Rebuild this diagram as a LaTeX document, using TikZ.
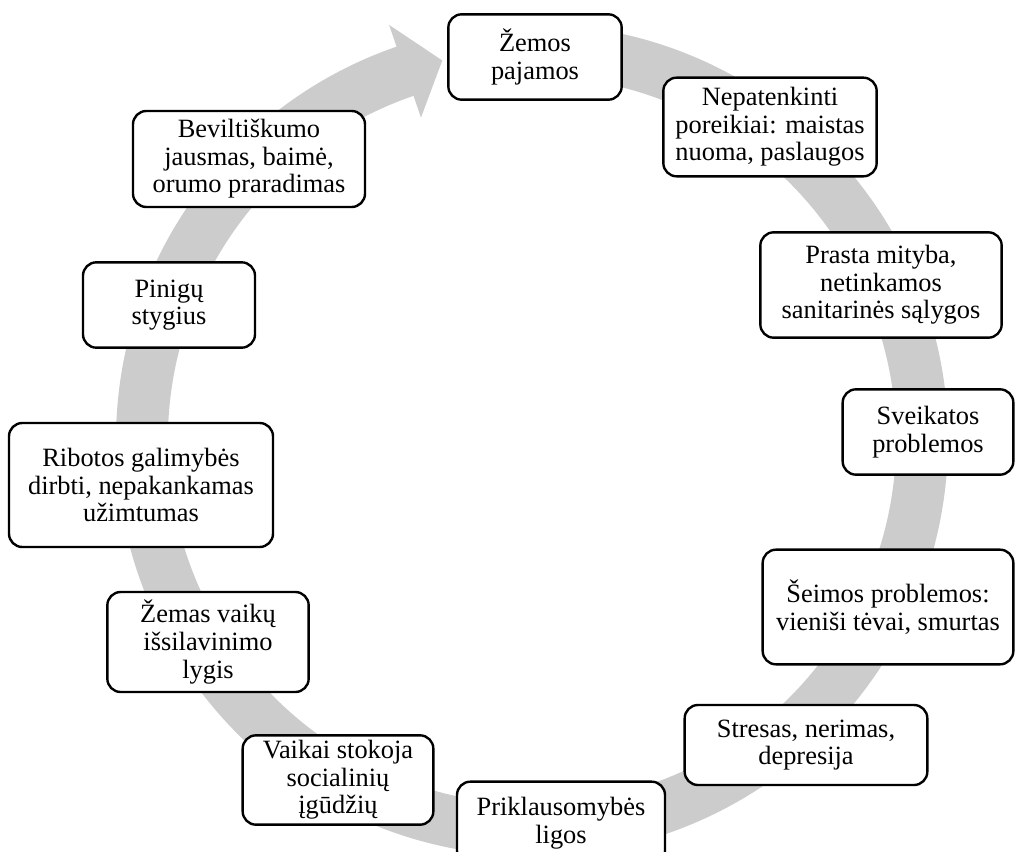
\documentclass[tikz,border=0pt]{standalone}
\usepackage{fontspec}
\setmainfont{Liberation Serif}

\begin{document}
\begin{tikzpicture}[
  x=0.75pt, y=0.75pt,
  stage/.style={rectangle, draw, line width=1.8pt, rounded corners=10pt,
                fill=white, align=center, inner sep=2pt,
                font=\fontsize{19.8}{20.7}\selectfont},
  band/.style={fill=gray!40}
]
\useasboundingbox (0,0) rectangle (1016,-852);

% grey cycle arrow behind the boxes
\begin{scope}[shift={(532,-440)}]
\fill[band] (82:416) arc[start angle=82, end angle=-251, radius=416]
  -- (-251:439) -- (-256.7:390) -- (-251:341) -- (-251:364)
  arc[start angle=-251, end angle=82, radius=364] -- cycle;
\end{scope}

\node[stage, minimum width=130pt, minimum height=64pt] (zem) at (535,-57)
                    {Žemos\\pajamos};
\node[stage, minimum width=160pt, minimum height=74pt] (nep) at (770,-127)
                    {Nepatenkinti\\poreikiai: maistas\\nuoma, paslaugos};
\node[stage, minimum width=181pt, minimum height=79pt] (pra) at (881,-285)
                    {Prasta mityba,\\netinkamos\\sanitarinės sąlygos};
\node[stage, minimum width=128pt, minimum height=64pt] (sve) at (928,-432)
                    {Sveikatos\\problemos};
\node[stage, minimum width=188pt, minimum height=86pt] (sei) at (888,-607)
                    {Šeimos problemos:\\vieniši tėvai, smurtas};
\node[stage, minimum width=182pt, minimum height=60pt] (str) at (806,-745)
                    {Stresas, nerimas,\\depresija};
\node[stage, minimum width=156pt, minimum height=62pt] (pri) at (561,-823)
                    {Priklausomybės\\ligos};
\node[stage, minimum width=143pt, minimum height=67pt] (vai) at (338,-780)
                    {Vaikai stokoja\\socialinių\\įgūdžių};
\node[stage, minimum width=151pt, minimum height=75pt] (zva) at (208,-642)
                    {Žemas vaikų\\išsilavinimo\\lygis};
\node[stage, minimum width=198pt, minimum height=93pt] (rib) at (141,-485)
                    {Ribotos galimybės\\dirbti, nepakankamas\\užimtumas};
\node[stage, minimum width=129pt, minimum height=64pt] (pin) at (169,-305)
                    {Pinigų\\stygius};
\node[stage, minimum width=174pt, minimum height=72pt] (bev) at (249,-159)
                    {Beviltiškumo\\jausmas, baimė,\\orumo praradimas};
\end{tikzpicture}
\end{document}
